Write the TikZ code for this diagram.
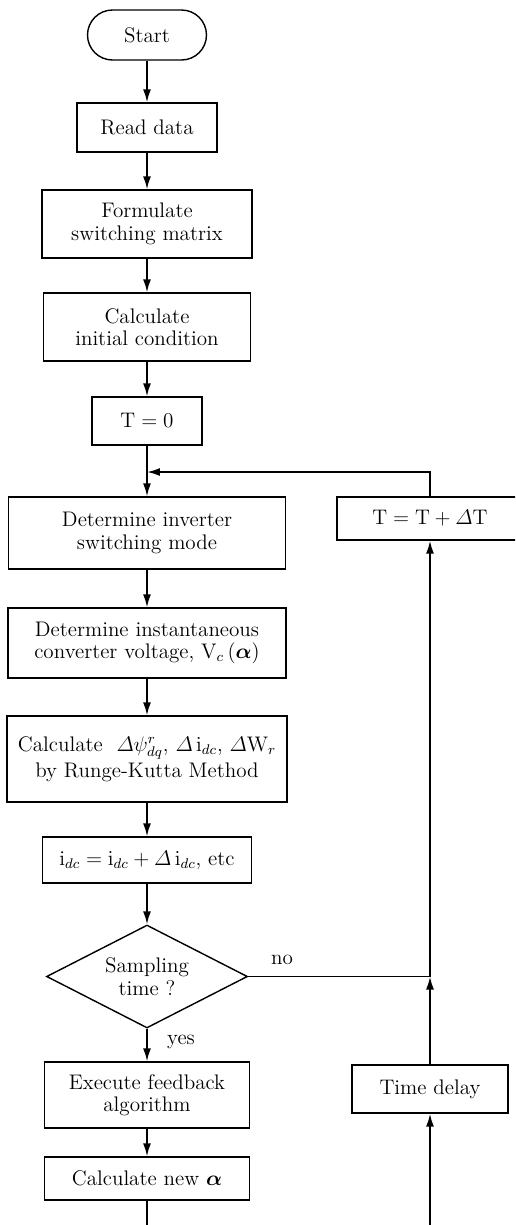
\documentclass[tikz,border=0pt]{standalone}
\usepackage{amsmath,amssymb}
\usepackage{tikz}
\usetikzlibrary{arrows.meta,shapes.geometric}

\begin{document}
\begin{tikzpicture}[>={Latex[length=2.6mm,width=1.6mm]},x=0.02cm,y=-0.02cm,
  font=\fontsize{12}{12.8}\selectfont,
  box/.style={draw,line width=0.8pt,align=center,inner sep=0pt},
  flow/.style={->,line width=1pt},
  wire/.style={line width=1pt}]
\clip (0,0) rectangle (515,1225);
\node[box,rounded corners=0.5cm,minimum width=2.38cm,minimum height=1cm] (start) at (147,35) {Start};
\node[box,minimum width=2.8cm,minimum height=0.98cm] (read) at (147,127.5) {Read data};
\node[box,minimum width=4.2cm,minimum height=1.36cm] (form) at (147,224) {Formulate\\switching matrix};
\node[box,minimum width=4.14cm,minimum height=1.36cm] (init) at (147,327) {Calculate\\initial condition};
\node[box,minimum width=2.2cm,minimum height=0.96cm] (tzero) at (147,421) {T${}={}$0};
\node[box,minimum width=5.54cm,minimum height=1.44cm] (inv) at (147,533) {Determine inverter\\switching mode};
\node[box,minimum width=5.56cm,minimum height=1.4cm] (volt) at (147,643) {Determine instantaneous\\converter voltage, V$_c\,(\boldsymbol{\alpha})$};
\node[box,minimum width=5.6cm,minimum height=1.72cm] (rk) at (147,759) {Calculate \ $\varDelta\psi^{r}_{dq}$, $\varDelta\,\mathrm{i}_{dc}$, $\varDelta\mathrm{W}_r$\\[1pt]by Runge-Kutta Method};
\node[box,minimum width=4.18cm,minimum height=0.92cm] (idc) at (147,860) {i$_{dc}=\mathrm{i}_{dc}+\varDelta\,\mathrm{i}_{dc}$, etc};
\node[box,diamond,aspect=2,minimum width=4.02cm,minimum height=2.06cm] (samp) at (147,976.5) {Sampling\\time ?};
\node[box,minimum width=4.1cm,minimum height=1.32cm] (feed) at (147,1095) {Execute feedback\\algorithm};
\node[box,minimum width=4.1cm,minimum height=0.86cm] (newa) at (147,1178.5) {Calculate new $\boldsymbol{\alpha}$};
\node[box,minimum width=3.72cm,minimum height=0.86cm] (tdt) at (430,518.5) {T${}={}$T${}+\varDelta$T};
\node[box,minimum width=3.12cm,minimum height=0.96cm] (delay) at (430,1089) {Time delay};
\node (nolab) at (282,960) {no};
\node (yeslab) at (181,1042) {yes};
\coordinate (join) at (147,472);
\coordinate (merge) at (430,976.5);
\coordinate (ende) at (147,1225);
\coordinate (endr) at (430,1225);
\draw[flow] (start) -- (read);
\draw[flow] (read) -- (form);
\draw[flow] (form) -- (init);
\draw[flow] (init) -- (tzero);
\draw[flow] (tzero) -- (inv);
\draw[flow] (tdt.north) |- (join);
\draw[flow] (inv) -- (volt);
\draw[flow] (volt) -- (rk);
\draw[flow] (rk) -- (idc);
\draw[flow] (idc) -- (samp);
\draw[flow] (samp) -- (feed);
\draw[flow] (feed) -- (newa);
\draw[wire] (newa) -- (ende);
\draw[wire] (samp.east) -- (merge);
\draw[flow] (delay) -- (merge);
\draw[flow] (merge) -- (tdt);
\draw[flow] (endr) -- (delay);
\end{tikzpicture}
\end{document}
